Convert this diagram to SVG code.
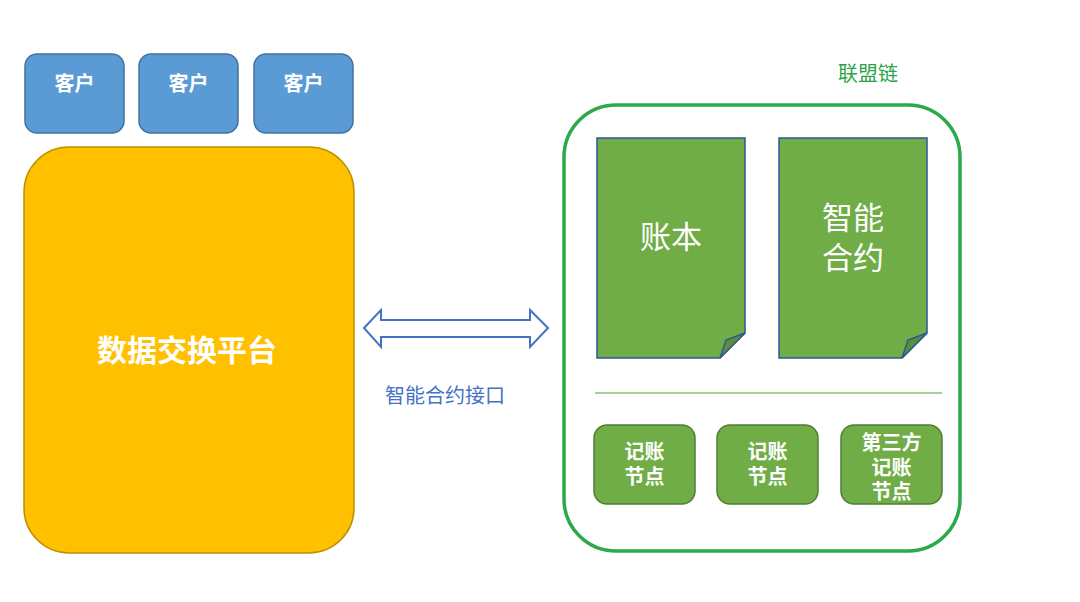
<svg xmlns="http://www.w3.org/2000/svg" width="1080" height="602" viewBox="0 0 1080 602">
<style>
text{font-family:"Noto Sans CJK SC","Liberation Sans",sans-serif;text-anchor:middle}
.client rect{fill:#5B9BD5;stroke:#41719C;stroke-width:1.5}
.w{fill:#fff;font-weight:bold}
.doc path.body{fill:#70AD47;stroke:#2F5597;stroke-width:1.5}
.doc path.fold{fill:#5A8F38;stroke:#2F5597;stroke-width:1.5}
.node rect{fill:#70AD47;stroke:#507E32;stroke-width:1.5}
.node text{fill:#fff;font-weight:bold;font-size:20px;font-family:"Liberation Sans","Noto Sans CJK SC",sans-serif}
.ml{font-family:"Liberation Sans","Noto Sans CJK SC",sans-serif}
</style>
<rect width="1080" height="602" fill="#fff"/>
<g id="client1" class="client"><rect x="25" y="54" width="99" height="79" rx="12"/><text class="w" x="74.5" y="91" font-size="20">客户</text></g>
<g id="client2" class="client"><rect x="139" y="54" width="99" height="79" rx="12"/><text class="w" x="188.5" y="91" font-size="20">客户</text></g>
<g id="client3" class="client"><rect x="254" y="54" width="99" height="79" rx="12"/><text class="w" x="303.5" y="91" font-size="20">客户</text></g>
<g id="platform"><rect x="24" y="147" width="330" height="406" rx="45" fill="#FFC000" stroke="#BF9000" stroke-width="1.5"/><text class="w" x="187" y="361" font-size="30">数据交换平台</text></g>
<g id="connectors">
<path d="M364,328 L381,310 L381,320 L530,320 L530,310 L548,328 L530,347 L530,337 L381,337 L381,347 Z" fill="#fff" stroke="#4472C4" stroke-width="2"/>
<text x="445" y="403" font-size="20" fill="#4472C4">智能合约接口</text>
</g>
<g id="chain">
<rect x="564" y="105" width="396" height="446" rx="52" fill="#fff" stroke="#2BAA4A" stroke-width="3.5"/>
<text x="868" y="81" font-size="20" fill="#2BA34A">联盟链</text>
<line x1="595" y1="393" x2="942" y2="393" stroke="#A9D18E" stroke-width="2"/>
</g>
<g id="ledger" class="doc"><path class="body" d="M597,138 L745,138 L745,333 L720,358 L597,358 Z"/><path class="fold" d="M745,333 L726,340 L720,358 Z"/><text x="671" y="248" font-size="31" fill="#fff">账本</text></g>
<g id="contract" class="doc"><path class="body" d="M779,138 L927,138 L927,333 L902,358 L779,358 Z"/><path class="fold" d="M927,333 L908,340 L902,358 Z"/><text class="ml" x="853" y="229" font-size="31" fill="#fff"><tspan x="853">智能</tspan><tspan x="853" dy="40">合约</tspan></text></g>
<g id="node1" class="node"><rect x="594" y="425" width="101" height="79" rx="13"/><text x="644.5" y="459"><tspan x="644.5">记账</tspan><tspan x="644.5" dy="25">节点</tspan></text></g>
<g id="node2" class="node"><rect x="717" y="425" width="101" height="79" rx="13"/><text x="767.5" y="459"><tspan x="767.5">记账</tspan><tspan x="767.5" dy="25">节点</tspan></text></g>
<g id="node3" class="node"><rect x="841" y="425" width="101" height="79" rx="13"/><text x="891.5" y="450"><tspan x="891.5">第三方</tspan><tspan x="891.5" dy="24.5">记账</tspan><tspan x="891.5" dy="24.5">节点</tspan></text></g>
</svg>
